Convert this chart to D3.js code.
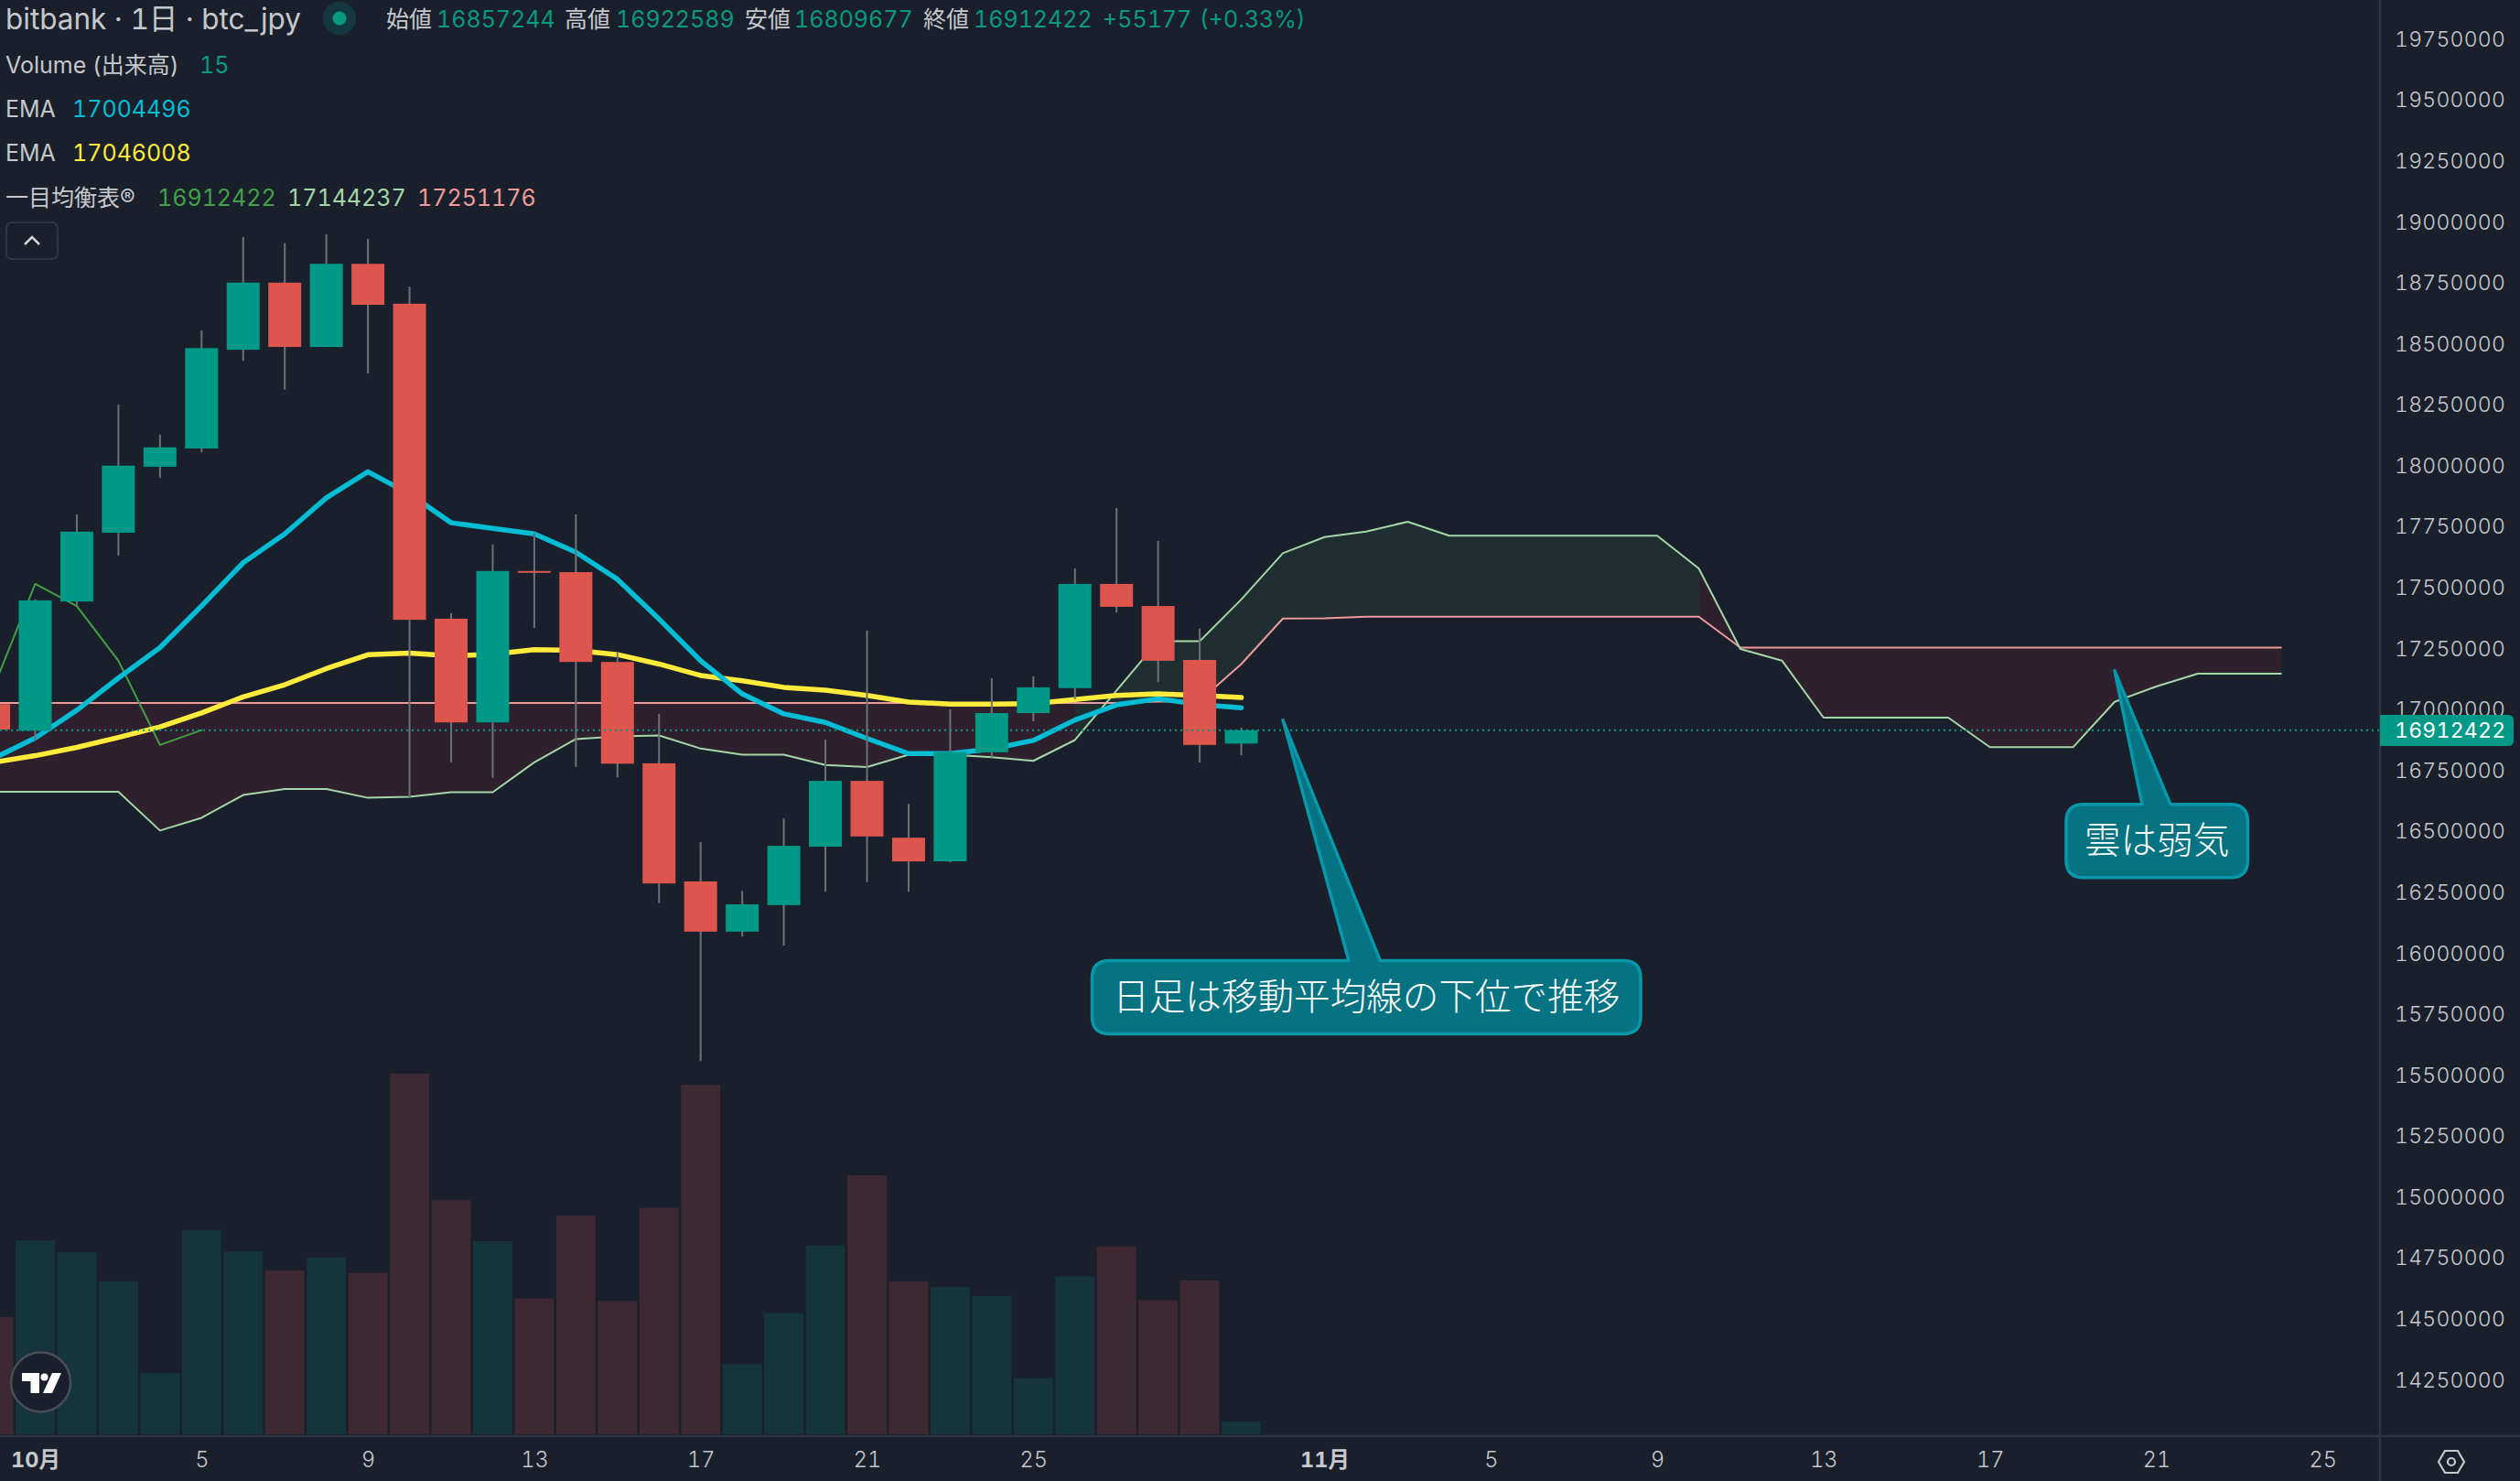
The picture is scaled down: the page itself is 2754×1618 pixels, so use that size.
<!DOCTYPE html>
<html>
<head>
<meta charset="utf-8">
<script src="https://cdn.jsdelivr.net/npm/d3@7"></script>
<style>
  html, body { margin: 0; padding: 0; background: #19202c; }
  svg { display: block; }
  text { font-family: Inter, "Noto Sans CJK JP", sans-serif; font-feature-settings: "tnum"; font-weight: 400; }
  .noteText { font-weight: 300; }
</style>
</head>
<body>
<div id="chart"></div>
<script>
// day 0 = Oct 1, day -1 is the cut off candle on the left edge
var candleDays = d3.range(-1, 30);
var opens = [17019200, 16910025, 17440100, 17722200, 17992925, 18068000, 18472950, 18748225, 18484325, 18825575, 18661775,
  17369575, 16944150, 17565225, 17560675, 17192125, 16776288, 16291837, 16085652, 16194611, 16434322, 16704207,
  16471201, 16373976, 16821548, 16982472, 17084727, 17512183, 17421663, 17200391, 16857244];
var highs = [17040000, 17449200, 17797275, 18247725, 18124875, 18552575, 18934775, 18909750, 18946150, 18927950, 18732300,
  17392325, 17674425, 17722200, 17797275, 17233075, 16979120, 16452762, 16253282, 16549987, 16873513, 17321085,
  16610334, 16997559, 17124958, 17133339, 17575883, 17823975, 17688195, 17329467, 16922589];
var lows = [16890000, 16871350, 17421900, 17628925, 17947425, 18052075, 18427450, 18309150, 18484325, 18375125, 16637025,
  16780350, 16716650, 17330900, 16762150, 16718925, 16202993, 15554265, 16065536, 16028658, 16249929, 16288484,
  16249929, 16370623, 16799756, 16948946, 17039467, 17394842, 17109871, 16779640, 16809677];
var closes = [16914575, 17444650, 17726750, 17997475, 18072550, 18479775, 18748225, 18484325, 18825575, 18657225, 17365025,
  16944150, 17565225, 17562950, 17192125, 16774611, 16283455, 16085652, 16197964, 16437675, 16704207, 16476230,
  16373976, 16823224, 16982472, 17088079, 17512183, 17418310, 17197039, 16851721, 16912422];
var volumes = [137, 227, 213, 179, 72, 239, 214, 192, 207, 189, 422, 274, 226, 159, 256, 156, 265, 409, 82, 142, 221, 303,
  179, 172, 162, 66, 185, 220, 157, 180, 15];

var emaFast = [16796275, 16880450, 16994200, 17126150, 17251275, 17421900, 17599350, 17717650, 17865525, 17972450, 17881450,
  17763150, 17740400, 17717650, 17642575, 17531100, 17368021, 17197039, 17061259, 16979120, 16943918, 16878542,
  16816519, 16816519, 16834958, 16870160, 16953975, 17015999, 17041143, 17017675, 17004496];
var emaSlow = [16780350, 16807650, 16841775, 16882725, 16925950, 16982825, 17048800, 17098850, 17164825, 17221700, 17228525,
  17217150, 17223975, 17242175, 17239900, 17222183, 17183628, 17136692, 17114900, 17088078, 17076345, 17054553,
  17027733, 17019351, 17019351, 17021027, 17037790, 17054553, 17061259, 17054553, 17046008];

// ichimoku, cloud runs 25 days past the last candle
var cloudDays = d3.range(-1, 55);
var senkouA = [16659775, 16659775, 16659775, 16659775, 16500525, 16552850, 16646125, 16671150, 16671150, 16634750, 16639300,
  16657500, 16657500, 16780350, 16875900, 16887000, 16890276, 16836634, 16811490, 16811490, 16769582, 16761201,
  16811490, 16811490, 16801432, 16786345, 16871837, 17074669, 17277501, 17277501, 17448484, 17638512, 17704600,
  17727130, 17767309, 17709857, 17709857, 17709857, 17709857, 17709857, 17709857, 17575804, 17245364, 17197675,
  16963739, 16963739, 16963739, 16963739, 16842452, 16842452, 16842452, 17028700, 17091409, 17144237, 17144237, 17144237];
var senkouB = [17024000, 17024000, 17024000, 17024000, 17024000, 17024000, 17024000, 17024000, 17024000, 17024000, 17024000,
  17024000, 17024000, 17024000, 17024000, 17024000, 17024000, 17024000, 17024000, 17024000, 17024000, 17024000,
  17024000, 17024000, 17024000, 17024000, 17024000, 17024000, 17029407, 17032762, 17183579, 17370405, 17371000,
  17377915, 17377915, 17377915, 17377915, 17377915, 17377915, 17377915, 17377915, 17377915, 17251176, 17251176,
  17251176, 17251176, 17251176, 17251176, 17251176, 17251176, 17251176, 17251176, 17251176, 17251176, 17251176, 17251176];
var chikouDays = [-1, 0, 1, 2, 3, 4];
var chikou = [17088079, 17512183, 17421663, 17197039, 16851721, 16912422];

var lastPrice = 16912422;
var priceTicks = d3.range(14250000, 19750001, 250000);
var dayTicks = [0, 4, 8, 12, 16, 20, 24, 31, 35, 39, 43, 47, 51, 55];
var dayLabels = ["10月", "5", "9", "13", "17", "21", "25", "11月", "5", "9", "13", "17", "21", "25"];

var svgWidth = 2754;
var svgHeight = 1618;
var paneRight = 2601;
var paneBottom = 1569;

var colors = {
  bg: "#19202c", border: "#2f3541", text: "#c6c8cb",
  up: "#009988", down: "#dd554d", wick: "#6e7177",
  volUp: "#16343c", volDown: "#3e2932",
  cyan: "#00bcd4", yellow: "#ffeb3b",
  chikou: "#43a047", spanA: "#a5d6a7", spanB: "#ef9a9a",
  cloudUp: "#1f2e31", cloudDown: "#2f202d",
  noteFill: "#067383", noteLine: "#0797a8"
};

var svg = d3.select("#chart").append("svg")
  .attr("width", svgWidth)
  .attr("height", svgHeight);

svg.append("rect").attr("width", svgWidth).attr("height", svgHeight).attr("fill", colors.bg);

svg.append("clipPath").attr("id", "pane").append("rect")
  .attr("width", paneRight).attr("height", paneBottom);

var x = d3.scaleLinear().domain([0, 55]).range([38.5, 38.5 + 55 * 45.45]);
var y = d3.scaleLinear().domain([14250000, 19750000]).range([1506.7, 42]);
var yVol = d3.scaleLinear().domain([0, 422]).range([1567, 1173]);

var pane = svg.append("g").attr("clip-path", "url(#pane)");

var candles = candleDays.map(function(d, i) {
  return { day: d, open: opens[i], high: highs[i], low: lows[i], close: closes[i], vol: volumes[i] };
});

// volume
pane.selectAll(".vol").data(candles).enter().append("rect")
  .attr("class", "vol")
  .attr("x", d => x(d.day) - 21.5)
  .attr("width", 43)
  .attr("y", d => yVol(d.vol))
  .attr("height", d => yVol(0) - yVol(d.vol))
  .attr("fill", d => d.close >= d.open ? colors.volUp : colors.volDown);

// cloud, each segment takes its colour from the end of the segment
var cloudArea = d3.area()
  .x(d => x(d.day))
  .y0(d => y(d.a))
  .y1(d => y(d.b));

var cloud = cloudDays.map(function(d, i) {
  return { day: d, a: senkouA[i], b: senkouB[i] };
});

pane.selectAll(".cloud").data(d3.pairs(cloud)).enter().append("path")
  .attr("class", "cloud")
  .attr("d", d => cloudArea(d))
  .attr("fill", d => d[1].a >= d[1].b ? colors.cloudUp : colors.cloudDown)
  .attr("shape-rendering", "crispEdges");

function drawLine(days, values, color, width) {
  var line = d3.line().x(d => x(d[0])).y(d => y(d[1]));
  pane.append("path")
    .attr("d", line(d3.zip(days, values)))
    .attr("fill", "none")
    .attr("stroke", color)
    .attr("stroke-width", width)
    .attr("stroke-linecap", "round")
    .attr("stroke-linejoin", "round");
}

drawLine(cloudDays, senkouB, colors.spanB, 2);
drawLine(cloudDays, senkouA, colors.spanA, 2);
drawLine(chikouDays, chikou, colors.chikou, 2);
drawLine(candleDays, emaSlow, colors.yellow, 5.5);
drawLine(candleDays, emaFast, colors.cyan, 5.5);

// candles
pane.selectAll(".wick").data(candles).enter().append("line")
  .attr("class", "wick")
  .attr("x1", d => x(d.day))
  .attr("x2", d => x(d.day))
  .attr("y1", d => y(d.high))
  .attr("y2", d => y(d.low))
  .attr("stroke", colors.wick)
  .attr("stroke-width", 2);

pane.selectAll(".body").data(candles).enter().append("rect")
  .attr("class", "body")
  .attr("x", d => x(d.day) - 18)
  .attr("width", 36)
  .attr("y", d => y(Math.max(d.open, d.close)))
  .attr("height", d => Math.max(2, Math.abs(y(d.open) - y(d.close))))
  .attr("fill", d => d.close >= d.open ? colors.up : colors.down);

// callouts: tip sits on the chart, box is placed relative to the tip
var notes = [
  { text: "日足は移動平均線の下位で推移", tipDay: 30, tipPrice: 16953975, left: -208.5, top: 263, w: 599.5, h: 80, tail: [72, 106.5] },
  { text: "雲は弱気", tipDay: 50, tipPrice: 17156370, left: -53, top: 146, w: 198.5, h: 80, tail: [30, 61] }
];

function notePath(n) {
  var tx = x(n.tipDay), ty = y(n.tipPrice);
  var l = tx + n.left, t = ty + n.top, r = l + n.w, b = t + n.h, c = 19;
  return "M" + (l + c) + "," + t +
    "L" + (tx + n.tail[0]) + "," + t +
    "L" + tx + "," + ty +
    "L" + (tx + n.tail[1]) + "," + t +
    "L" + (r - c) + "," + t +
    "Q" + r + "," + t + " " + r + "," + (t + c) +
    "L" + r + "," + (b - c) +
    "Q" + r + "," + b + " " + (r - c) + "," + b +
    "L" + (l + c) + "," + b +
    "Q" + l + "," + b + " " + l + "," + (b - c) +
    "L" + l + "," + (t + c) +
    "Q" + l + "," + t + " " + (l + c) + "," + t + "Z";
}

pane.selectAll(".note").data(notes).enter().append("path")
  .attr("class", "note")
  .attr("d", notePath)
  .attr("fill", colors.noteFill)
  .attr("stroke", colors.noteLine)
  .attr("stroke-width", 3.5)
  .attr("stroke-linejoin", "round");

pane.selectAll(".noteText").data(notes).enter().append("text")
  .attr("class", "noteText")
  .attr("x", d => x(d.tipDay) + d.left + d.w / 2)
  .attr("y", d => y(d.tipPrice) + d.top + d.h / 2 + 13)
  .attr("text-anchor", "middle")
  .attr("fill", "#ffffff")
  .attr("font-size", 39.6)
  .text(d => d.text);

// last price line
pane.append("line")
  .attr("x1", 0)
  .attr("x2", paneRight)
  .attr("y1", y(lastPrice))
  .attr("y2", y(lastPrice))
  .attr("stroke", colors.up)
  .attr("stroke-width", 2)
  .attr("stroke-dasharray", "2 4");

// axes
svg.append("line").attr("x1", paneRight).attr("x2", paneRight).attr("y1", 0).attr("y2", svgHeight)
  .attr("stroke", colors.border).attr("stroke-width", 2.5);
svg.append("line").attr("x1", 0).attr("x2", svgWidth).attr("y1", paneBottom).attr("y2", paneBottom)
  .attr("stroke", colors.border).attr("stroke-width", 2.5);

var priceAxis = svg.append("g")
  .attr("transform", `translate(${paneRight}, 1)`)
  .call(d3.axisRight(y).tickValues(priceTicks).tickSize(0).tickPadding(16).tickFormat(d3.format("d")));
priceAxis.select(".domain").remove();
priceAxis.selectAll("text")
  .attr("fill", colors.text)
  .attr("font-size", 23)
  .style("font-family", "Inter, sans-serif")
  .style("font-weight", 300)
  .style("letter-spacing", "0.25px");

var dayAxis = svg.append("g")
  .attr("transform", `translate(0, ${paneBottom})`)
  .call(d3.axisBottom(x).tickValues(dayTicks).tickSize(0).tickPadding(17).tickFormat((d, i) => dayLabels[i]));
dayAxis.select(".domain").remove();
dayAxis.selectAll("text")
  .attr("fill", colors.text)
  .attr("font-size", 23.5)
  .style("font-family", "Inter, 'Noto Sans CJK JP', sans-serif")
  .style("font-weight", (d, i) => dayLabels[i].indexOf("月") > 0 ? 700 : 300);

// last price tag
svg.append("path")
  .attr("d", "M" + paneRight + ",781H2741q6,0 6,6V809q0,6 -6,6H" + paneRight + "Z")
  .attr("fill", colors.up);
svg.append("text")
  .attr("x", paneRight + 16)
  .attr("y", y(lastPrice) + 8.5)
  .attr("fill", "#ffffff")
  .attr("font-size", 23)
  .style("letter-spacing", "0.25px")
  .text(d3.format("d")(lastPrice));

// legend
var teal = "#089981";
var legendItems = [
  ["bitbank · 1日 · btc_jpy", 6, 32, colors.text, 31.5],
  ["始値", 422, 30, colors.text, 25],
  ["16857244", 477, 30, teal, 25],
  ["高値", 617, 30, colors.text, 25],
  ["16922589", 673, 30, teal, 25],
  ["安値", 814, 30, colors.text, 25],
  ["16809677", 868, 30, teal, 25],
  ["終値", 1009, 30, colors.text, 25],
  ["16912422", 1064, 30, teal, 25],
  ["+55177", 1205, 30, teal, 25],
  ["(+0.33%)", 1311, 30, teal, 25],
  ["Volume (出来高)", 6, 80, colors.text, 25],
  ["15", 218, 80, teal, 25],
  ["EMA", 6, 128, colors.text, 25],
  ["17004496", 79, 128, colors.cyan, 25],
  ["EMA", 6, 176, colors.text, 25],
  ["17046008", 79, 176, colors.yellow, 25],
  ["一目均衡表®", 6, 224.5, colors.text, 25],
  ["16912422", 172, 224.5, colors.chikou, 25],
  ["17144237", 314, 224.5, colors.spanA, 25],
  ["17251176", 456, 224.5, colors.spanB, 25]
];

svg.selectAll(".legend").data(legendItems).enter().append("text")
  .attr("class", "legend")
  .attr("x", d => d[1])
  .attr("y", d => d[2])
  .attr("fill", d => d[3])
  .attr("font-size", d => d[4])
  .text(d => d[0]);

// live dot
svg.append("circle").attr("cx", 371).attr("cy", 20).attr("r", 18).attr("fill", "#14383f");
svg.append("circle").attr("cx", 371).attr("cy", 20).attr("r", 7.5).attr("fill", teal);

// collapse button
svg.append("rect").attr("x", 7).attr("y", 243).attr("width", 56).attr("height", 40).attr("rx", 6)
  .attr("fill", "none").attr("stroke", colors.border).attr("stroke-width", 2);
svg.append("path").attr("d", "M27,267L35,259L43,267")
  .attr("fill", "none").attr("stroke", "#d2d4d6").attr("stroke-width", 2.5);

// logo
var logo = svg.append("g");
logo.append("circle").attr("cx", 44.6).attr("cy", 1510).attr("r", 32.5)
  .attr("fill", colors.bg).attr("stroke", "#4b4e57").attr("stroke-width", 2.5);
logo.append("path").attr("d", "M24,1500H43V1522H33.5V1509H24Z").attr("fill", "#ffffff");
logo.append("circle").attr("cx", 48.5).attr("cy", 1504.5).attr("r", 4).attr("fill", "#ffffff");
logo.append("path").attr("d", "M57,1500H67L57,1522H47Z").attr("fill", "#ffffff");

// settings icon
svg.append("path").attr("d", "M2665,1597L2672,1585H2686L2693,1597L2686,1609H2672Z")
  .attr("fill", "none").attr("stroke", "#c6c8cb").attr("stroke-width", 2.2);
svg.append("circle").attr("cx", 2679).attr("cy", 1597).attr("r", 4)
  .attr("fill", "none").attr("stroke", "#c6c8cb").attr("stroke-width", 2.2);
</script>
</body>
</html>
